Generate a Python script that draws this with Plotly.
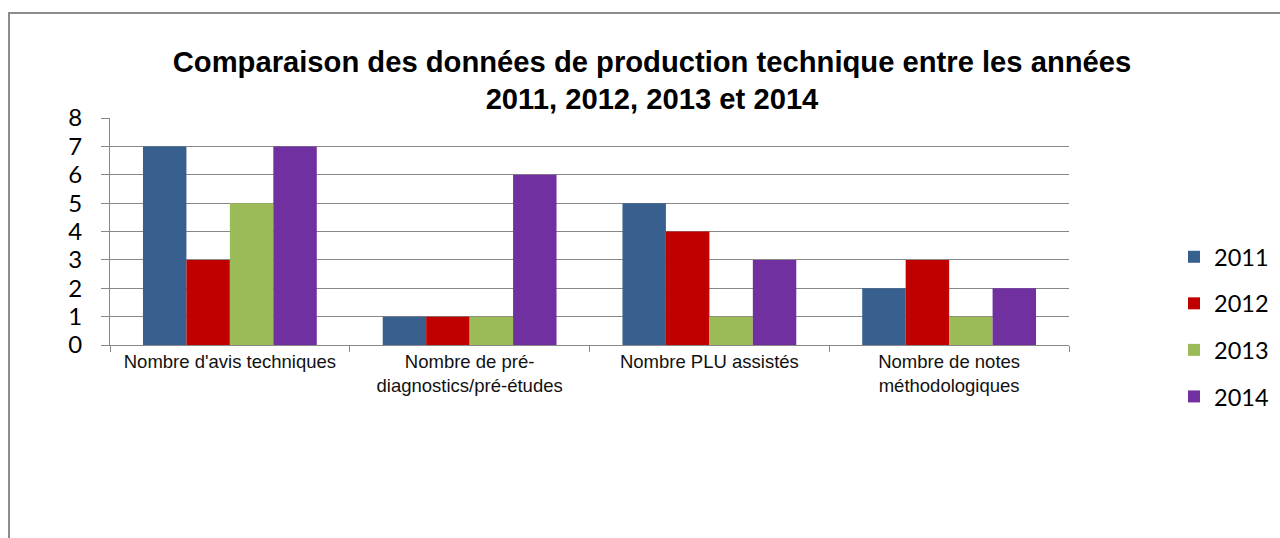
import plotly.graph_objects as go

categories = ["Nombre d'avis techniques", "Nombre de pré-<br>diagnostics/pré-études",
              "Nombre PLU assistés", "Nombre de notes<br>méthodologiques"]
years = ["2011", "2012", "2013", "2014"]
v2011 = [7, 1, 5, 2]
v2012 = [3, 1, 4, 3]
v2013 = [5, 1, 1, 1]
v2014 = [7, 6, 3, 2]
series = [v2011, v2012, v2013, v2014]
colors = ["#37608F", "#C00000", "#9BBB59", "#7030A0"]

W, H = 1280, 538
L, R, T, B = 110, 1069, 118, 345
pw, ph = R - L, B - T

fig = go.Figure()
for i, (yr, vals) in enumerate(zip(years, series)):
    fig.add_trace(go.Bar(x=categories, y=vals, name=yr, marker_color=colors[i],
                         marker_line_width=0, legendgroup=yr))

def px_x(p):
    return (p - L) / pw

def px_y(p):
    return (B - p) / ph

frame = dict(color="#8C8C8C", width=2)

fig.update_layout(
    width=W, height=H,
    margin=dict(l=L, r=W - R, t=T, b=H - B, pad=0, autoexpand=False),
    paper_bgcolor="white", plot_bgcolor="white",
    barmode="group", bargap=0.275, bargroupgap=0,
    title=dict(text="<b>Comparaison des données de production technique entre les années<br>2011, 2012, 2013 et 2014</b>",
               x=652 / W, xanchor="center", y=1 - 71.5 / H, yanchor="middle",
               font=dict(family="Arial, Liberation Sans", size=29.2, color="black")),
    font=dict(family="Arial, Liberation Sans", color="black"),
    showlegend=True,
    legend=dict(x=px_x(1174), xanchor="left", y=px_y(327), yanchor="middle",
                font=dict(family="Lato", size=23.5, color="black"),
                tracegroupgap=13, traceorder="grouped", itemwidth=30,
                bgcolor="rgba(0,0,0,0)"),
    xaxis=dict(showline=True, linecolor="#888888", linewidth=1,
               ticks="outside", tickson="boundaries", ticklen=6, tickcolor="#888888",
               tickfont=dict(family="Arial, Liberation Sans", size=18.5, color="#111111"),
               showgrid=False),
    yaxis=dict(range=[0, 8], dtick=1, showline=True, linecolor="#888888", linewidth=1,
               ticks="outside", ticklen=8, tickcolor="#888888",
               showgrid=True, gridcolor="#888888", gridwidth=1,
               zeroline=False,
               tickfont=dict(family="Lato", size=24, color="black"),
               ticklabelstandoff=14),
    shapes=[
        dict(type="line", xref="paper", yref="paper",
             x0=px_x(9), x1=px_x(9), y0=px_y(538), y1=px_y(12), line=frame, layer="below"),
        dict(type="line", xref="paper", yref="paper",
             x0=px_x(8), x1=px_x(1280), y0=px_y(13), y1=px_y(13), line=frame, layer="below"),
    ],
)

fig.write_html("out.html", config={"displayModeBar": False},
               post_script="document.body.style.margin='0';document.body.style.overflow='hidden';")
